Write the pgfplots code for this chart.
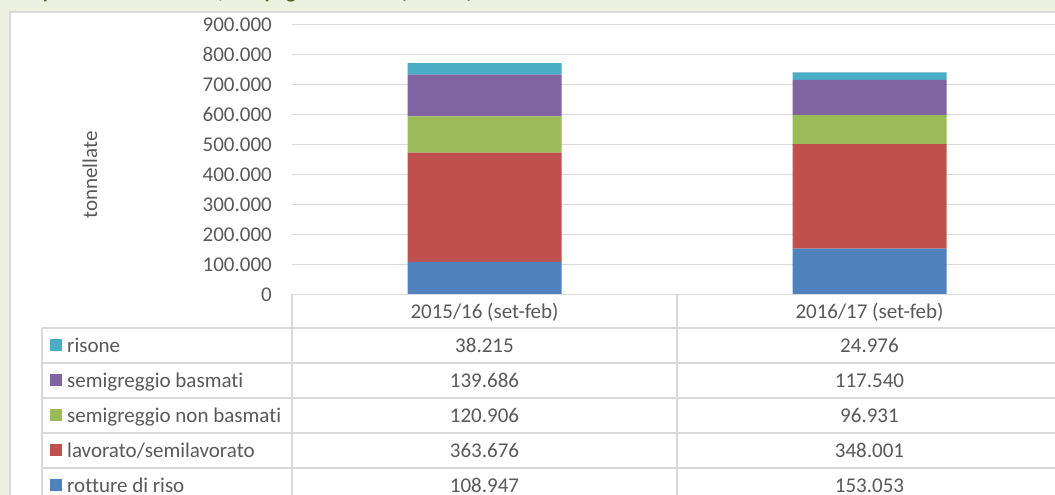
\documentclass[border=0pt]{standalone}
\usepackage{pgfplots}
\pgfplotsset{compat=1.18}
\usepackage{fontspec}
\setmainfont[Ligatures={NoCommon}]{Carlito}

\definecolor{bggreen}{HTML}{EBF1DE}
\definecolor{titlegreen}{HTML}{4F6228}
\definecolor{linegray}{HTML}{D9D9D9}
\definecolor{txtgray}{HTML}{595959}
\definecolor{cblue}{HTML}{4F81BD}
\definecolor{cred}{HTML}{C0504D}
\definecolor{cgreen}{HTML}{9BBB59}
\definecolor{cpurple}{HTML}{8064A2}
\definecolor{caqua}{HTML}{4BACC6}

\begin{document}
\fontsize{21}{25}\selectfont
\begin{tikzpicture}[x=1pt,y=1pt]
\path[use as bounding box] (0,0) rectangle (1055,495);
\clip (0,0) rectangle (1055,495);
\fill[bggreen] (0,0) rectangle (1055,495);
% title, cut off at the top edge as in the reference
\node[anchor=base west, text=titlegreen, font=\fontsize{21}{25}\selectfont\bfseries, inner sep=0pt]
  at (20,496.5) {Importazioni UE di riso, campagna 2016/17 (set-feb)};
\filldraw[fill=white, draw=linegray, line width=1.5pt] (10,-10) rectangle (1070,483);

\begin{axis}[
    at={(292pt,200.5pt)}, anchor=south west,
    scale only axis, width=770pt, height=270pt,
    ybar stacked, bar width=154pt,
    xmin=-0.5, xmax=1.5, ymin=0, ymax=900000,
    xtick=\empty,
    scaled y ticks=false,
    ytick={0,100000,200000,300000,400000,500000,600000,700000,800000,900000},
    yticklabels={0,100.000,200.000,300.000,400.000,500.000,600.000,700.000,800.000,900.000},
    ymajorgrids, grid style={linegray, line width=1.5pt},
    axis line style={draw=none}, major tick length=0pt,
    tick label style={font=\fontsize{21}{25}\selectfont, text=txtgray},
    yticklabel style={inner sep=0pt, xshift=-20pt},
    clip=false
]
\addplot[fill=cblue, draw=none] coordinates {(0,108947) (1,153053)};
\addplot[fill=cred, draw=none] coordinates {(0,363676) (1,348001)};
\addplot[fill=cgreen, draw=none] coordinates {(0,120906) (1,96931)};
\addplot[fill=cpurple, draw=none] coordinates {(0,139686) (1,117540)};
\addplot[fill=caqua, draw=none] coordinates {(0,38215) (1,24976)};
\end{axis}

% y label
\node[rotate=90, text=txtgray, inner sep=0pt] at (90,320) {tonnellate};

% data table lines
\begin{scope}[linegray, line width=1.5pt]
\draw (292,200.5) -- (1070,200.5);
\foreach \yy in {167,132,97,62,27} \draw (42,\yy) -- (1070,\yy);
\draw (292,200.5) -- (292,-10);
\draw (677,200.5) -- (677,-10);
\draw (42,167) -- (42,-10);
\end{scope}

% table text
\begin{scope}[every node/.style={text=txtgray, inner sep=0pt}]
\node[anchor=base] at (484.5,176.75) {2015/16 (set-feb)};
\node[anchor=base] at (869.5,176.75) {2016/17 (set-feb)};
\foreach \yc/\lab/\col/\va/\vb in {
    149.5/risone/caqua/38.215/24.976,
    114.5/semigreggio basmati/cpurple/139.686/117.540,
    79.5/semigreggio non basmati/cgreen/120.906/96.931,
    44.5/lavorato\slash semilavorato/cred/363.676/348.001,
    9.5/rotture di riso/cblue/108.947/153.053} {
  \fill[\col] (50,\yc-6) rectangle (62,\yc+6);
  \node[anchor=base west] at (67,\yc-7) {\lab};
  \node[anchor=base] at (484.5,\yc-7) {\va};
  \node[anchor=base] at (869.5,\yc-7) {\vb};
}
\end{scope}
\end{tikzpicture}
\end{document}
